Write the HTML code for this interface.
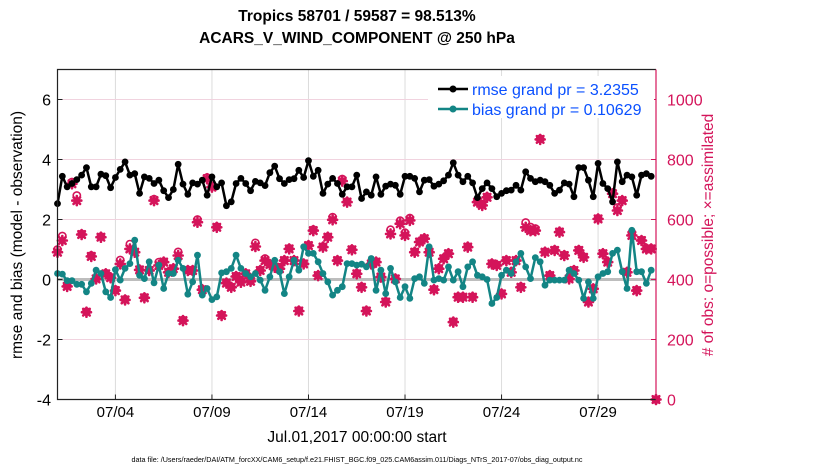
<!DOCTYPE html>
<html><head><meta charset="utf-8"><style>
body{margin:0;background:#fff;}
svg text{font-family:"Liberation Sans",sans-serif;}
</style></head><body>
<svg id="chart" width="830" height="470" viewBox="0 0 830 470" xmlns="http://www.w3.org/2000/svg">
<rect x="0" y="0" width="830" height="470" fill="#fff"/>
<text x="357" y="21" text-anchor="middle" font-size="15.5" font-weight="bold">Tropics 58701 / 59587 = 98.513%</text>
<text x="357" y="43" text-anchor="middle" font-size="15.5" font-weight="bold">ACARS_V_WIND_COMPONENT @ 250 hPa</text>
<g id="grid"></g>
<g id="marks"></g>
<g id="axes"></g>
<text transform="translate(22,235) rotate(-90)" text-anchor="middle" font-size="15.5">rmse and bias (model - observation)</text>
<text transform="translate(713,235) rotate(-90)" text-anchor="middle" font-size="15.5" fill="#d4145a"># of obs: o=possible; ×=assimilated</text>
<text x="357" y="442" text-anchor="middle" font-size="15.5">Jul.01,2017 00:00:00 start</text>
<text x="357" y="462" text-anchor="middle" font-size="7.2">data file: /Users/raeder/DAI/ATM_forcXX/CAM6_setup/f.e21.FHIST_BGC.f09_025.CAM6assim.011/Diags_NTrS_2017-07/obs_diag_output.nc</text>
<g>
<rect x="428" y="76" width="226" height="42" fill="#fff"/>
<g>
<line x1="438" y1="89" x2="468" y2="89" stroke="#000" stroke-width="2.5"/>
<circle cx="453" cy="89" r="3.5" fill="#000"/>
<text x="472" y="95" font-size="16" fill="#0a50ff">rmse grand pr = 3.2355</text>
</g>
<g>
<line x1="438" y1="109" x2="468" y2="109" stroke="#138585" stroke-width="2.5"/>
<circle cx="453" cy="109" r="3.5" fill="#138585"/>
<text x="472" y="115" font-size="16" fill="#0a50ff">bias grand pr = 0.10629</text>
</g>
</g>
</svg>
<script>
const xTickLabels = ["07/04","07/09","07/14","07/19","07/24","07/29"];
const xTickDays = [3,8,13,18,23,28];
const leftTicks = [6,4,2,0,-2,-4];
const rightTicks = [0,200,400,600,800,1000];
const rmse = [2.53,3.44,3.09,3.2,3.33,3.48,3.73,3.09,3.09,3.51,3.46,3.06,3.4,3.67,3.92,3.48,3.53,2.87,3.42,3.37,3.2,3.31,2.96,2.73,3.0,3.84,3.18,2.84,3.22,3.18,3.31,2.81,
3.42,3.09,3.22,2.46,2.59,3.2,3.37,3.2,2.96,3.27,3.22,3.13,3.56,3.78,3.36,3.2,3.33,3.36,3.64,3.4,3.96,3.44,3.64,2.87,3.18,3.37,3.2,2.84,3.09,3.09,3.48,
2.7,2.92,2.81,3.42,2.84,3.11,3.18,3.14,2.84,3.44,3.44,3.37,2.92,3.31,3.33,3.11,3.18,3.29,3.48,3.89,3.48,3.26,3.44,3.22,2.73,3.03,3.22,3.03,2.76,2.87,2.96,
2.98,3.14,2.98,3.59,3.37,3.26,3.31,3.26,3.14,2.87,2.98,3.22,3.18,2.76,3.73,3.73,3.31,2.76,3.87,3.2,3.03,2.59,3.92,3.26,3.48,3.42,2.81,3.48,3.53,3.44];
const bias = [0.2,0.18,-0.04,-0.04,-0.16,-0.16,-0.41,-0.13,0.31,0.2,-0.41,-0.6,0.33,-0.02,0.37,0.53,1.31,0.14,0.03,0.59,-0.11,0.48,-0.3,0.2,0.2,0.64,0.37,-0.49,-0.08,0.81,-0.52,-0.3,
-0.67,-0.58,0.22,0.26,0.37,0.81,0.37,0.2,0.09,0.2,-0.02,-0.36,0.09,0.64,0.26,-0.47,0.09,0.64,0.31,1.09,0.87,0.87,0.59,0.2,-0.08,-0.52,-0.36,-0.24,0.53,0.53,0.48,
0.51,0.42,0.7,-0.36,0.31,-0.47,0.37,-0.08,-0.6,-0.24,-0.63,0.03,0.09,-0.13,1.09,-0.02,0.03,-0.02,0.42,-0.02,0.26,-0.24,0.42,0.59,0.14,0.09,0,-0.8,-0.6,0.14,0.31,
0.2,0.59,0.87,0.42,0.03,0.73,0.59,-0.19,-0.02,-0.02,-0.02,-0.02,0.31,0.2,-0.02,-0.63,-0.08,-0.63,0.09,0.2,0.26,0.87,0.98,0.26,-0.3,1.64,0.26,0.26,-0.13,0.31];
const nAssim = [491,530,377,719,663,550,291,477,402,541,419,406,363,452,332,502,491,432,339,430,663,447,458,424,436,480,263,430,430,591,366,
736,708,574,280,388,374,410,391,419,394,510,430,463,450,441,436,463,502,463,295,452,513,563,413,508,541,599,463,728,658,499,419,
374,295,452,458,408,325,552,402,586,547,597,491,525,536,491,366,436,469,486,258,341,341,508,341,658,647,674,452,447,352,463,
424,463,374,574,563,563,867,491,413,497,558,480,402,430,497,474,325,369,602,486,458,686,630,663,424,547,363,530,502,502,0];
const nPoss = [500,545,380,725,680,552,293,480,404,543,421,408,366,465,334,518,493,434,341,432,668,458,460,426,438,492,265,432,432,600,368,
740,712,576,282,390,376,412,393,421,396,522,432,470,452,443,438,465,504,465,297,454,515,566,415,510,543,608,465,735,660,501,421,
376,297,454,460,410,327,566,404,596,556,605,493,527,538,493,368,438,471,488,260,343,343,510,343,660,650,676,454,449,354,465,
426,465,376,590,575,570,869,493,415,499,560,482,404,432,499,476,327,371,604,488,460,688,640,665,426,556,365,532,504,504,0];

const L=57.5,R=656,T=69.5,B=399.5;
const X = d => L + (d/31)*(R-L);
const Y = v => B - (v+4)/11*(B-T);
const YR = c => B - c/1100*(B-T);
const NS="http://www.w3.org/2000/svg";
function mk(tag, attrs, parent){const e=document.createElementNS(NS,tag);for(const k in attrs)e.setAttribute(k,attrs[k]);parent.appendChild(e);return e;}
const grid=document.getElementById('grid'), marks=document.getElementById('marks'), axes=document.getElementById('axes');
const PINK="#d4145a", TEAL="#138585";

xTickDays.forEach((d,i)=>{
  const g=mk('line',{x1:X(d),x2:X(d),y1:T,y2:B,stroke:"#dcdcdc","stroke-width":1},grid);
  
  
  const t=mk('line',{x1:X(d),x2:X(d),y1:B,y2:B-5,stroke:"#222","stroke-width":1},axes);
  
  
  const tx=mk('text',{x:X(d),y:417,"text-anchor":"middle","font-size":15},axes);
  tx.textContent=xTickLabels[i];
  
  
});
rightTicks.forEach(c=>{
  if(c>0){const g=mk('line',{x1:L,x2:R,y1:YR(c),y2:YR(c),stroke:"#f1d3df","stroke-width":1},grid);
  
  }
  const tx=mk('text',{x:667,y:YR(c)+6,"font-size":16,fill:PINK},axes);
  tx.textContent=c;
  
  
  const t=mk('line',{x1:R,x2:R-5,y1:YR(c),y2:YR(c),stroke:PINK},axes);
  
  
});
leftTicks.forEach(v=>{
  const tx=mk('text',{x:51,y:Y(v)+6,"text-anchor":"end","font-size":16},axes);
  tx.textContent=v;
  
  
  const t=mk('line',{x1:L,x2:L+5,y1:Y(v),y2:Y(v),stroke:"#222"},axes);
  
  
});
const zl=mk('line',{x1:L,x2:R,y1:Y(0),y2:Y(0),stroke:"#bdbdbd","stroke-width":3},marks);



// obs markers
nPoss.forEach((c,i)=>{
  const o=mk('circle',{cx:X(i*0.25),cy:YR(c),r:3.6,fill:"none",stroke:PINK,"stroke-width":1.6},marks);
  
  
});
nAssim.forEach((c,i)=>{
  const x=X(i*0.25), y=YR(c);
  const a=mk('path',{d:`M${x-4.5},${y}H${x+4.5}M${x},${y-4.5}V${y+4.5}M${x-3.3},${y-3.3}L${x+3.3},${y+3.3}M${x+3.3},${y-3.3}L${x-3.3},${y+3.3}`,stroke:PINK,"stroke-width":2.6,"stroke-linecap":"round"},marks);
  
  
});
function series(vals,color,name){
  const p=mk('polyline',{points:vals.map((v,i)=>X(i*0.25)+","+Y(v)).join(" "),fill:"none",stroke:color,"stroke-width":2.5,"stroke-linejoin":"round"},marks);
  
  
  vals.forEach((v,i)=>{
    const c=mk('circle',{cx:X(i*0.25),cy:Y(v),r:3.4,fill:color},marks);
    
    
  });
}
series(bias,TEAL,'bias');
series(rmse,"#000",'rmse');

const fr=mk('path',{d:`M${R},${T}H${L}V${B}H${R}`,fill:"none",stroke:"#222","stroke-width":1.2},axes);


const rr=mk('line',{x1:R,x2:R,y1:T,y2:B,stroke:PINK,"stroke-width":1.2},axes);


</script>
</body></html>
